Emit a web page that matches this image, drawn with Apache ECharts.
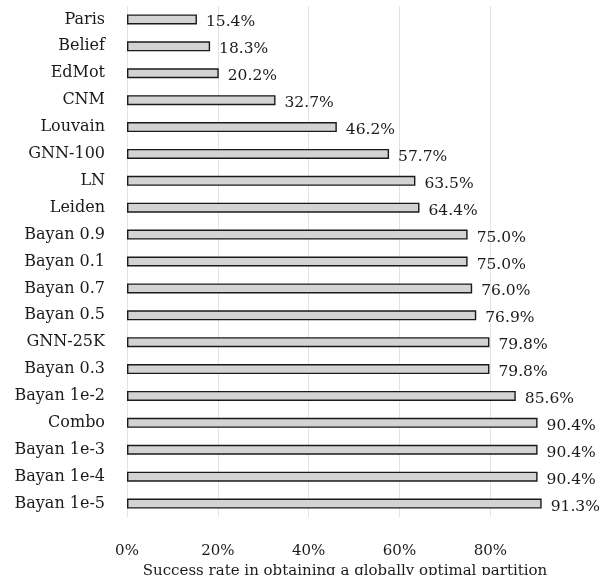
<!DOCTYPE html>
<html>
<head>
<meta charset="utf-8">
<script src="https://cdn.jsdelivr.net/npm/echarts@6/dist/echarts.min.js"></script>
<style>
  html, body { margin: 0; padding: 0; background: #fff; }
  #chart { width: 602px; height: 575px; }
</style>
</head>
<body>
<div id="chart"></div>
<script>
const methods = [
  'Paris', 'Belief', 'EdMot', 'CNM', 'Louvain', 'GNN-100', 'LN', 'Leiden',
  'Bayan 0.9', 'Bayan 0.1', 'Bayan 0.7', 'Bayan 0.5', 'GNN-25K', 'Bayan 0.3',
  'Bayan 1e-2', 'Combo', 'Bayan 1e-3', 'Bayan 1e-4', 'Bayan 1e-5'
];
const successRate = [
  15.4, 18.3, 20.2, 32.7, 46.2, 57.7, 63.5, 64.4,
  75.0, 75.0, 76.0, 76.9, 79.8, 79.8,
  85.6, 90.4, 90.4, 90.4, 91.3
];
const xTicks = [0, 20, 40, 60, 80];

const font = 'DejaVu Serif';
const chart = echarts.init(document.getElementById('chart'));

chart.setOption({
  animation: false,
  grid: { left: 127, right: 39, top: 6, bottom: 58, containLabel: false, outerBoundsMode: 'none' },
  xAxis: {
    type: 'value',
    min: 0,
    max: 96,
    interval: 20,
    name: 'Success rate in obtaining a globally optimal partition',
    nameLocation: 'middle',
    nameGap: 36,
    nameTextStyle: { fontFamily: font, fontSize: 15, color: '#1a1a1a' },
    axisLine: { show: false },
    axisTick: { show: false },
    axisLabel: {
      fontFamily: font, fontSize: 15, color: '#1a1a1a', margin: 27,
      showMaxLabel: false,
      formatter: v => xTicks.includes(v) ? v + '%' : ''
    },
    splitLine: {
      show: true,
      showMaxLine: false,
      lineStyle: { color: '#e3e3e3', width: 1 }
    }
  },
  yAxis: {
    type: 'category',
    data: methods,
    inverse: true,
    axisLine: { show: false },
    axisTick: { show: false },
    axisLabel: { fontFamily: font, fontSize: 16, color: '#1a1a1a', margin: 22 }
  },
  series: [{
    type: 'bar',
    data: successRate,
    barWidth: 10,
    itemStyle: { color: '#d3d3d3', borderColor: '#1a1a1a', borderWidth: 1.4 },
    label: {
      show: true,
      position: 'right',
      distance: 9,
      offset: [0, 3],
      fontFamily: font,
      fontSize: 15.5,
      color: '#1a1a1a',
      formatter: p => p.value.toFixed(1) + '%'
    }
  }]
});
</script>
</body>
</html>
